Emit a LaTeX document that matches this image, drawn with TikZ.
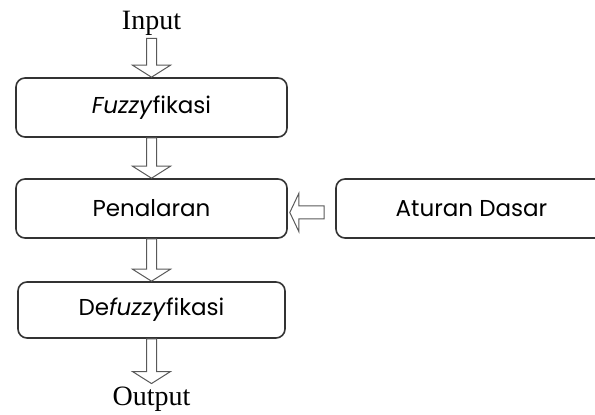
\documentclass[tikz,border=0pt]{standalone}
\usepackage{fontspec}
\setmainfont{Liberation Serif}
\newfontfamily\boxfont{Poppins}
\usetikzlibrary{calc}

% hollow block arrow, pointing down from (#1) to (#2)
\newcommand{\hollowdown}[2]{%
  \draw[arrowline] let \p1=(#1), \p2=(#2) in
    (\x2-5pt,\y1) -- (\x2-5pt,\y2+12pt) -- (\x2-19pt,\y2+12pt) -- (\x2,\y2)
    -- (\x2+19pt,\y2+12pt) -- (\x2+5pt,\y2+12pt) -- (\x2+5pt,\y1) -- cycle;}

% hollow block arrow, pointing left from (#1) to (#2)
\newcommand{\hollowleft}[2]{%
  \draw[arrowline] let \p1=($(#1)+(-11pt,-4pt)$), \p2=($(#2)+(2pt,-4pt)$) in
    (\x1,\y1-6.5pt) -- (\x2+9pt,\y1-6.5pt) -- (\x2+9pt,\y1-19pt) -- (\x2,\y1)
    -- (\x2+9pt,\y1+19pt) -- (\x2+9pt,\y1+6.5pt) -- (\x1,\y1+6.5pt) -- cycle;}

\begin{document}
\begin{tikzpicture}[x=1pt,y=1pt,
  stage/.style={draw=black!80, line width=1.6pt, rounded corners=9pt,
    minimum width=271pt, minimum height=59pt, font=\boxfont\fontsize{23}{27}\selectfont},
  arrowline/.style={draw=black!65, line width=1pt},
  io/.style={font=\fontsize{28}{32}\selectfont, inner sep=3pt}]

% Page
\useasboundingbox (0,0) rectangle (595,415);

% Input / Output
\node[io] (inp) at (151.5,392) {Input};
\node[io] (out) at (151.5,16) {Output};

% Main chain
\node[stage] (fuz) at (151.5,307.5) {\textit{Fuzzy}fikasi};
\node[stage] (pen) at (151.5,206.5) {Penalaran};
\node[stage, minimum width=267pt, minimum height=56pt] (def) at (151.5,105) {De\textit{fuzzy}fikasi};

% Rule base (runs off the right edge)
\node[stage] (ate) at (471.5,206.5) {Aturan Dasar};

% Arrows
\foreach \a/\b in {inp.south/fuz.north, fuz.south/pen.north, pen.south/def.north, def.south/out.north} {
  \hollowdown{\a}{\b}
}
\hollowleft{ate.west}{pen.east}

\end{tikzpicture}
\end{document}
